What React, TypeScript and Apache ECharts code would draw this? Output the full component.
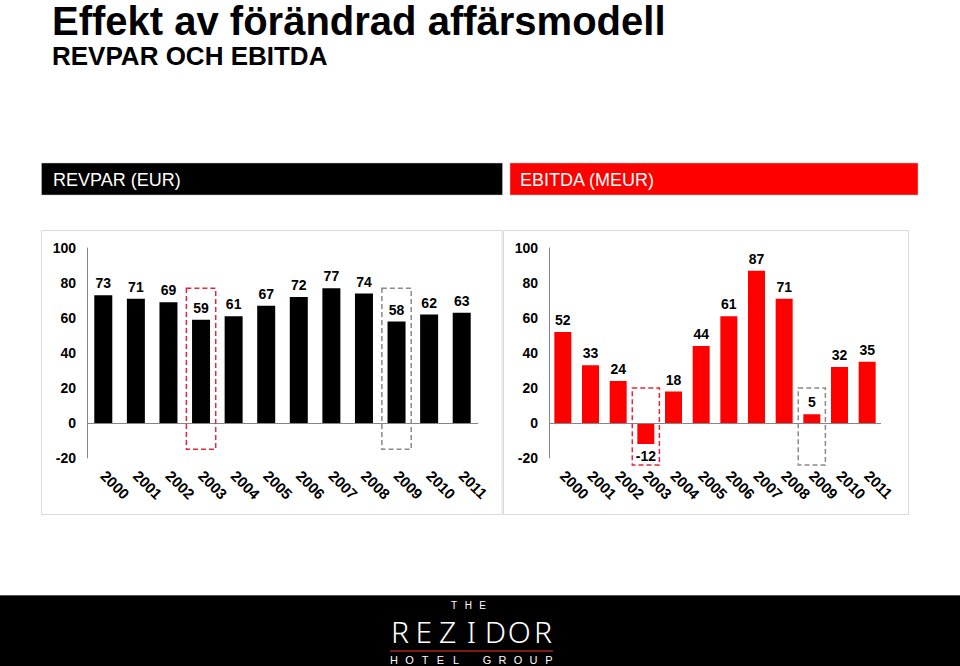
import React, { useEffect, useRef } from "react";
import * as echarts from "echarts";

const years = ["2000", "2001", "2002", "2003", "2004", "2005", "2006", "2007", "2008", "2009", "2010", "2011"];
const revpar = [73, 71, 69, 59, 61, 67, 72, 77, 74, 58, 62, 63];
const ebitda = [52, 33, 24, -12, 18, 44, 61, 87, 71, 5, 32, 35];
const yTicks = { min: -20, max: 100, interval: 20 };
const highlightYears = ["2003", "2009"];
const highlightColors = ["#e0283c", "#8a8a8a"];
const revparBoxRange = [77, -15];
const ebitdaBoxRange = [20, -24];

const title = "Effekt av förändrad affärsmodell";
const subtitle = "REVPAR OCH EBITDA";
const leftHeader = "REVPAR (EUR)";
const rightHeader = "EBITDA (MEUR)";

const FONT = "'Liberation Sans', Arial, Helvetica, sans-serif";

function spreadLetters(text: string, x0: number, x1: number, y: number, style: any) {
  const chars = text.split("");
  const n = chars.length;
  const step = n > 1 ? (x1 - x0) / (n - 1) : 0;
  return chars
    .map((c, i) => ({ c, i }))
    .filter((o) => o.c !== " ")
    .map((o) => ({
      type: "text",
      x: x0 + o.i * step,
      y,
      style: { text: o.c, align: "center", verticalAlign: "middle", ...style },
    }));
}

function boxSeries(xIdx: number, range: number[]) {
  return {
    type: "custom",
    xAxisIndex: xIdx,
    yAxisIndex: xIdx,
    clip: false,
    silent: true,
    z: 5,
    data: highlightYears.map((y) => [years.indexOf(y), range[0], range[1]]),
    encode: { x: 0, y: [1, 2] },
    renderItem: (params: any, api: any) => {
      const idx = api.value(0);
      const top = api.coord([idx, api.value(1)]);
      const bot = api.coord([idx, api.value(2)]);
      const w = api.size([1, 0])[0] * (xIdx === 0 ? 0.9 : 0.98);
      return {
        type: "rect",
        shape: { x: top[0] - w / 2, y: top[1], width: w, height: bot[1] - top[1] },
        style: {
          fill: "none",
          stroke: highlightColors[params.dataIndex],
          lineWidth: 1.5,
          lineDash: [5, 3],
        },
      };
    },
  };
}

export default function App() {
  const ref = useRef<HTMLDivElement>(null);
  useEffect(() => {
    if (!ref.current) return;
    const chart = echarts.init(ref.current, null, { renderer: "svg" });
    const labelStyle = { fontFamily: FONT, fontWeight: "bold", fontSize: 14, color: "#000" };
    const yAxisBase = {
      type: "value",
      min: yTicks.min,
      max: yTicks.max,
      interval: yTicks.interval,
      axisLine: { show: true, lineStyle: { color: "#868686", width: 1 } },
      axisTick: { show: false },
      splitLine: { show: false },
      axisLabel: { ...labelStyle, margin: 11 },
    };
    const xAxisBase = {
      type: "category",
      data: years,
      position: "bottom",
      axisLine: { show: false, onZero: false },
      axisTick: { show: false },
      axisLabel: { ...labelStyle, fontSize: 15, rotate: -45, margin: 15, interval: 0 },
    };
    const zeroLine = {
      silent: true,
      symbol: "none",
      label: { show: false },
      lineStyle: { color: "#868686", width: 1, type: "solid" },
      data: [{ yAxis: 0 }],
    };
    const option: any = {
      animation: false,
      backgroundColor: "#fff",
      grid: [
        { left: 87, top: 248, width: 391, height: 210 },
        { left: 549, top: 248, width: 332, height: 210 },
      ],
      xAxis: [
        { ...xAxisBase, gridIndex: 0 },
        { ...xAxisBase, gridIndex: 1 },
      ],
      yAxis: [
        { ...yAxisBase, gridIndex: 0 },
        { ...yAxisBase, gridIndex: 1 },
      ],
      series: [
        {
          type: "bar",
          xAxisIndex: 0,
          yAxisIndex: 0,
          data: revpar,
          barWidth: 18,
          itemStyle: { color: "#000" },
          label: { show: true, position: "top", ...labelStyle },
          markLine: zeroLine,
        },
        {
          type: "bar",
          xAxisIndex: 1,
          yAxisIndex: 1,
          data: ebitda.map((v) => ({
            value: v,
            label: { position: v < 0 ? "bottom" : "top" },
          })),
          barWidth: 17,
          itemStyle: { color: "#ff0000" },
          label: { show: true, position: "top", ...labelStyle },
          markLine: zeroLine,
        },
        boxSeries(0, revparBoxRange),
        boxSeries(1, ebitdaBoxRange),
      ],
      graphic: [
        {
          type: "text",
          x: 52,
          y: 21,
          style: { text: title, fontFamily: FONT, fontWeight: "bold", fontSize: 40, fill: "#000", verticalAlign: "middle" },
        },
        {
          type: "text",
          x: 52,
          y: 56,
          style: { text: subtitle, fontFamily: FONT, fontWeight: "bold", fontSize: 26, fill: "#000", verticalAlign: "middle" },
        },
        { type: "rect", shape: { x: 41.5, y: 163, width: 461, height: 32 }, style: { fill: "#000", stroke: "#c8c8c8", lineWidth: 0.5 } },
        {
          type: "text",
          x: 53,
          y: 180,
          style: { text: leftHeader, fontFamily: FONT, fontSize: 18, fill: "#fff", verticalAlign: "middle" },
        },
        { type: "rect", shape: { x: 510, y: 163, width: 408, height: 32 }, style: { fill: "#ff0000", stroke: "#c8c8c8", lineWidth: 0.5 } },
        {
          type: "text",
          x: 520,
          y: 180,
          style: { text: rightHeader, fontFamily: FONT, fontSize: 18, fill: "#fff", verticalAlign: "middle" },
        },
        { type: "rect", z: -1, shape: { x: 41.5, y: 230.5, width: 460.5, height: 284 }, style: { fill: "none", stroke: "#d9d9d9", lineWidth: 1 } },
        { type: "rect", z: -1, shape: { x: 503.5, y: 230.5, width: 405, height: 284 }, style: { fill: "none", stroke: "#d9d9d9", lineWidth: 1 } },
        { type: "rect", shape: { x: 0, y: 595, width: 960, height: 71 }, style: { fill: "#000" } },
        { type: "line", shape: { x1: 0, y1: 595.5, x2: 960, y2: 595.5 }, style: { stroke: "#555", lineWidth: 1 } },
        ...spreadLetters("THE", 454, 482.5, 605, { fontFamily: FONT, fontSize: 10, fill: "#fff" }),
        ...spreadLetters("REZIDOR", 400, 543, 631, { fontFamily: "'Noto Sans', " + FONT, fontSize: 30, fill: "#fff", fontWeight: 300 }),
        { type: "line", shape: { x1: 390, y1: 651, x2: 553, y2: 651 }, style: { stroke: "#7a1a1a", lineWidth: 2 } },
        ...spreadLetters("HOTEL GROUP", 394, 549, 660, { fontFamily: FONT, fontSize: 11, fill: "#fff" }),
      ],
    };
    chart.setOption(option);
    return () => chart.dispose();
  }, []);
  return <div ref={ref} style={{ position: "fixed", left: 0, top: 0, width: 960, height: 666 }} />;
}
